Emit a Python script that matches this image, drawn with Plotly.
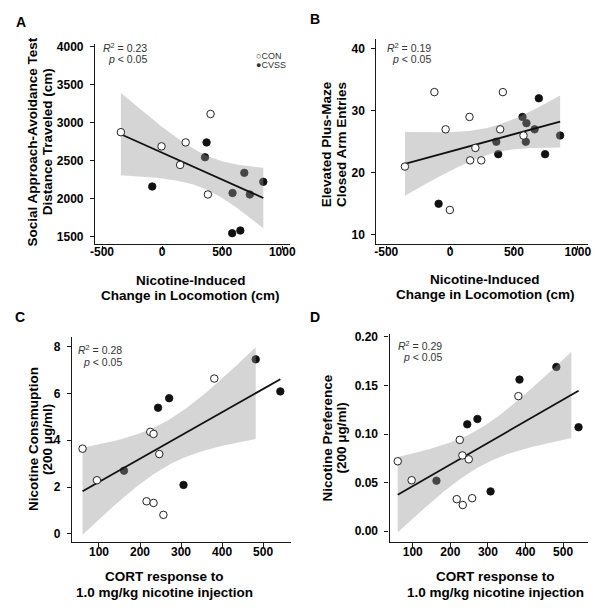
import numpy as np
import plotly.graph_objects as go

# ---------------- data ----------------
A_con_x = [-343, -5, 196, 150, 403, 381]
A_con_y = [2876, 2689, 2741, 2444, 3116, 2054]
A_cvs_x = [-82, 370, 357, 586, 684, 730, 842, 583, 651]
A_cvs_y = [2159, 2741, 2545, 2073, 2339, 2054, 2221, 1543, 1578]

B_con_x = [-123, 413, -35, 152, 392, -354, 198, 157, 244, -2, 575]
B_con_y = [33, 33, 27, 29, 27, 21, 24, 22, 22, 14, 26]
B_cvs_x = [-90, 695, 567, 598, 362, 377, 593, 662, 744, 862]
B_cvs_y = [15, 32, 29, 28, 25, 23, 25, 27, 23, 26]

C_con_x = [60, 95, 225, 233, 247, 216, 233, 257, 381]
C_con_y = [3.64, 2.29, 4.36, 4.27, 3.41, 1.39, 1.32, 0.81, 6.64]
C_cvs_x = [161, 244, 271, 306, 482, 542]
C_cvs_y = [2.70, 5.39, 5.80, 2.09, 7.46, 6.09]

D_con_x = [60, 97, 225, 232, 249, 217, 233, 258, 381]
D_con_y = [0.072, 0.0525, 0.094, 0.078, 0.074, 0.033, 0.027, 0.034, 0.139]
D_cvs_x = [163, 245, 272, 307, 384, 482, 541]
D_cvs_y = [0.052, 0.110, 0.1155, 0.041, 0.156, 0.169, 0.107]

loco_ticks = [-500, 0, 500, 1000]
loco_ticktext = ["-500", "0", "500", "1000"]
cort_ticks = [100, 200, 300, 400, 500]
cort_ticktext = ["100", "200", "300", "400", "500"]
A_yticks = [1500, 2000, 2500, 3000, 3500, 4000]
B_yticks = [10, 20, 30, 40]
C_yticks = [0, 2, 4, 6, 8]
D_yticks = [0.00, 0.05, 0.10, 0.15, 0.20]

r2_values = ["0.23", "0.19", "0.28", "0.29"]
p_text = "<i>p</i> < 0.05"

# two-sided 95% t critical values by degrees of freedom
T_CRIT = {13: 2.1604, 14: 2.1448, 19: 2.0930, 20: 2.0860}

# ---------------- layout helpers ----------------
W, H = 607, 609
FONT = "Liberation Sans, Arial, Helvetica, sans-serif"


def fx(p):
    return p / W


def fy(p):
    return 1 - p / H


panels = [
    dict(con=(A_con_x, A_con_y), cvs=(A_cvs_x, A_cvs_y),
         xdom=(91.7, 290), ydom=(242, 40), xr=(-558, 1062), yr=(1395, 4043),
         xt=(loco_ticks, loco_ticktext), yt=A_yticks, yfmt="d", band_max=None, xso=-8),
    dict(con=(B_con_x, B_con_y), cvs=(B_cvs_x, B_cvs_y),
         xdom=(378.3, 594), ydom=(242, 35), xr=(-577, 1082), yr=(8.45, 41.6),
         xt=(loco_ticks, loco_ticktext), yt=B_yticks, yfmt="d", band_max=None, xso=-8),
    dict(con=(C_con_x, C_con_y), cvs=(C_cvs_x, C_cvs_y),
         xdom=(68.3, 291.7), ydom=(541.7, 335), xr=(34.4, 569), yr=(-0.357, 8.425),
         xt=(cort_ticks, cort_ticktext), yt=C_yticks, yfmt="d", band_max=482, xso=-6),
    dict(con=(D_con_x, D_con_y), cvs=(D_cvs_x, D_cvs_y),
         xdom=(391.7, 593.3), ydom=(541.7, 331.7), xr=(38.4, 565), yr=(-0.0112, 0.2034),
         xt=(cort_ticks, cort_ticktext), yt=D_yticks, yfmt=".2f", band_max=522, xso=-6),
]

fig = go.Figure()
layout = dict(width=W, height=H, margin=dict(l=0, r=0, t=0, b=0),
              paper_bgcolor="white", plot_bgcolor="white", showlegend=False,
              font=dict(family=FONT, color="black"))

axis_common = dict(showline=True, linecolor="#1a1a1a", linewidth=1.3,
                   ticks="outside", ticklen=4, tickwidth=1.3, tickcolor="#1a1a1a",
                   showgrid=False, zeroline=False,
                   tickfont=dict(family=FONT, size=12, color="black", weight="bold"))

for i, p in enumerate(panels):
    n = i + 1
    xa = "x" if n == 1 else f"x{n}"
    ya = "y" if n == 1 else f"y{n}"
    xname = "xaxis" if n == 1 else f"xaxis{n}"
    yname = "yaxis" if n == 1 else f"yaxis{n}"

    layout[xname] = dict(axis_common, domain=[fx(p["xdom"][0]), fx(p["xdom"][1])],
                         range=list(p["xr"]), anchor=ya,
                         tickvals=p["xt"][0], ticktext=p["xt"][1],
                         ticklabelstandoff=p["xso"])
    layout[yname] = dict(axis_common, domain=[fy(p["ydom"][0]), fy(p["ydom"][1])],
                         range=list(p["yr"]), anchor=xa,
                         tickvals=p["yt"], tickformat=p["yfmt"], ticklabelstandoff=4)

    cx, cy = p["con"]
    vx, vy = p["cvs"]
    allx = np.array(cx + vx, dtype=float)
    ally = np.array(cy + vy, dtype=float)
    nn = len(allx)
    xbar = allx.mean()
    sxx = ((allx - xbar) ** 2).sum()
    b1, b0 = np.polyfit(allx, ally, 1)
    resid = ally - (b0 + b1 * allx)
    s = np.sqrt((resid ** 2).sum() / (nn - 2))
    t = T_CRIT[nn - 2]

    bmax = p["band_max"] if p["band_max"] is not None else allx.max()
    gx = np.linspace(allx.min(), bmax, 120)
    gy = b0 + b1 * gx
    se = s * np.sqrt(1 / nn + (gx - xbar) ** 2 / sxx)
    up = gy + t * se
    lo = gy - t * se

    # filled (CVSS) points first, band drawn over them
    fig.add_trace(go.Scatter(x=vx, y=vy, mode="markers", xaxis=xa, yaxis=ya,
                             marker=dict(size=7.5, color="#111111",
                                         line=dict(width=0.8, color="#111111"))))
    fig.add_trace(go.Scatter(x=np.concatenate([gx, gx[::-1]]),
                             y=np.concatenate([up, lo[::-1]]),
                             mode="lines", fill="toself", xaxis=xa, yaxis=ya,
                             fillcolor="rgba(150,150,150,0.40)", line=dict(width=0),
                             hoverinfo="skip"))
    lx = np.array([allx.min(), allx.max()])
    fig.add_trace(go.Scatter(x=lx, y=b0 + b1 * lx, mode="lines", xaxis=xa, yaxis=ya,
                             line=dict(color="#111111", width=1.8)))
    fig.add_trace(go.Scatter(x=cx, y=cy, mode="markers", xaxis=xa, yaxis=ya,
                             marker=dict(size=7.5, color="white",
                                         line=dict(width=1, color="#222222"))))

fig.update_layout(**layout)

ann = []
title_font = dict(family=FONT, size=13.5, color="black", weight="bold")


def text(x, y, t, font, angle=0, xanchor="center", yanchor="middle"):
    ann.append(dict(x=fx(x), y=fy(y), xref="paper", yref="paper", text=t,
                    showarrow=False, font=font, textangle=angle,
                    xanchor=xanchor, yanchor=yanchor))


# panel letters
letter_font = dict(family=FONT, size=14, color="black", weight="bold")
for lt, x, y in [("A", 16, 18), ("B", 316, 15), ("C", 15, 315), ("D", 316, 315)]:
    text(x, y, lt, letter_font)

# y titles
text(28, 139, "Social Approach-Avoidance Test", title_font, -90)
text(43, 139, "Distance Traveled (cm)", title_font, -90)
text(327, 141, "Elevated Plus-Maze", title_font, -90)
text(342, 141, "Closed Arm Entries", title_font, -90)
text(28.3, 438, "Nicotine Consmuption", title_font, -90)
text(42.7, 438, "(200 μg/ml)", title_font, -90)
text(328.3, 437, "Nicotine Preference", title_font, -90)
text(342.7, 437, "(200 μg/ml)", title_font, -90)

# x titles
text(189, 278, "Nicotine-Induced", title_font)
text(189, 293, "Change in Locomotion (cm)", title_font)
text(489, 277.7, "Nicotine-Induced", title_font)
text(489, 292.3, "Change in Locomotion (cm)", title_font)
text(162, 576.7, "CORT response to", title_font)
text(162, 592.3, "1.0 mg/kg nicotine injection", title_font)
text(500, 576.7, "CORT response to", title_font)
text(500, 592.3, "1.0 mg/kg nicotine injection", title_font)

# statistics
stat_font = dict(family=FONT, size=10.5, color="#333333")
for num, xr, y1, y2 in [(r2_values[0], 147, 43.3, 55),
                        (r2_values[1], 436, 43.3, 55),
                        (r2_values[2], 121, 347.7, 360),
                        (r2_values[3], 447, 344, 355.5)]:
    text(xr, y1, f"<i>R</i><sup>2</sup> = {num}", stat_font, xanchor="right")
    text(xr, y2, p_text, stat_font, xanchor="right")

# legend (panel A)
leg_font = dict(family=FONT, size=9, color="#333333")
text(254, 52.5, "○CON", leg_font, xanchor="left")
text(254, 61, "●CVSS", leg_font, xanchor="left")

fig.update_layout(annotations=ann)
fig.write_html("out.html", config={"displayModeBar": False},
               post_script="document.body.style.margin='0';document.body.style.padding='0';")
